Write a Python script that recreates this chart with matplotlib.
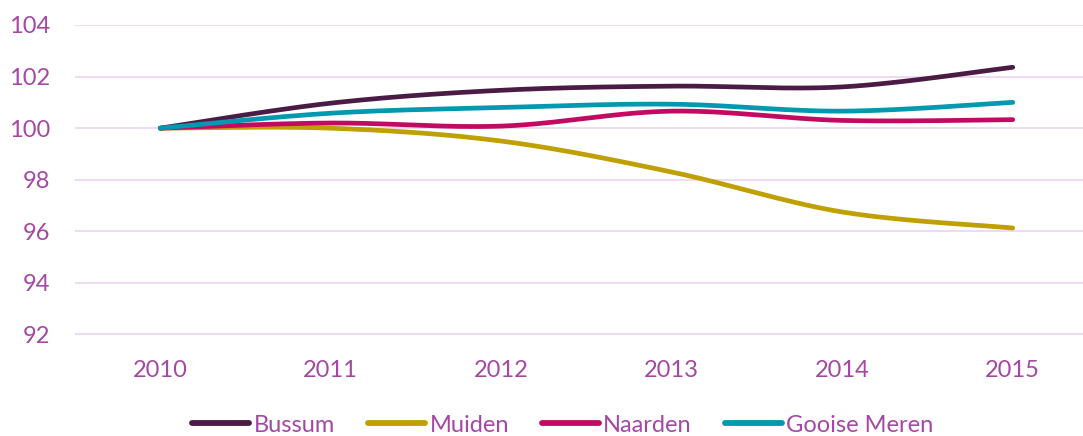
import numpy as np
import matplotlib
matplotlib.use('Agg')
import matplotlib.pyplot as plt

# --- data ---
years = ['2010', '2011', '2012', '2013', '2014', '2015']
bussum = [100.0, 100.97, 101.47, 101.63, 101.6, 102.36]
muiden = [100.0, 100.0, 99.5, 98.3, 96.75, 96.13]
naarden = [100.0, 100.2, 100.08, 100.66, 100.3, 100.33]
gooise_meren = [100.0, 100.58, 100.8, 100.93, 100.66, 101.0]

series_names = ['Bussum', 'Muiden', 'Naarden', 'Gooise Meren']
series_colors = ['#4a1c45', '#bfa000', '#c30a63', '#0099b0']

text_color = '#a548a5'
grid_color = '#eed8ee'

plt.rcParams['font.family'] = ['Lato', 'DejaVu Sans']


def smooth(xs, ys, steps=30):
	# excel-like smoothed line: bezier segments with catmull-rom control points
	pts = np.column_stack([xs, ys]).astype(float)
	n = len(pts)
	out = [pts[0]]
	t = np.linspace(0, 1, steps)[1:, None]
	for i in range(n - 1):
		p0 = pts[max(i - 1, 0)]
		p1 = pts[i]
		p2 = pts[i + 1]
		p3 = pts[min(i + 2, n - 1)]
		c1 = p1 + (p2 - p0) / 6
		c2 = p2 - (p3 - p1) / 6
		seg = ((1 - t) ** 3) * p1 + 3 * ((1 - t) ** 2) * t * c1 + 3 * (1 - t) * t ** 2 * c2 + t ** 3 * p2
		out.extend(seg)
	out = np.array(out)
	return out[:, 0], out[:, 1]


fig = plt.figure(figsize=(10.83, 4.36), dpi=100)
ax = fig.add_axes([75 / 1083, 101.5 / 436, 1023 / 1083, 309.5 / 436])

x = np.arange(len(years))
for vals, name, col in zip([bussum, muiden, naarden, gooise_meren], series_names, series_colors):
	sx, sy = smooth(x, vals)
	ax.plot(sx, sy, color=col, linewidth=3.4, solid_capstyle='round', label=name, zorder=3)

ax.set_xlim(-0.5, len(years) - 0.5)
ax.set_ylim(92, 104)
ax.set_yticks(range(92, 105, 2))
ax.set_xticks(x)
ax.set_xticklabels(years)

ax.grid(axis='y', color=grid_color, linewidth=1.3)
ax.set_axisbelow(True)
for s in ax.spines.values():
	s.set_visible(False)

ax.tick_params(axis='both', length=0, labelsize=17, labelcolor=text_color)
ax.tick_params(axis='y', pad=18)
ax.tick_params(axis='x', pad=18)

leg = fig.legend(loc='center', bbox_to_anchor=(563 / 1083, 11 / 436), ncol=4, frameon=False,
	fontsize=17, handlelength=2.4, handletextpad=0.2, columnspacing=1.4)
for txt in leg.get_texts():
	txt.set_color(text_color)
for line in leg.get_lines():
	line.set_linewidth(4.2)
	line.set_solid_capstyle('round')

fig.savefig('out.png', dpi=100)
